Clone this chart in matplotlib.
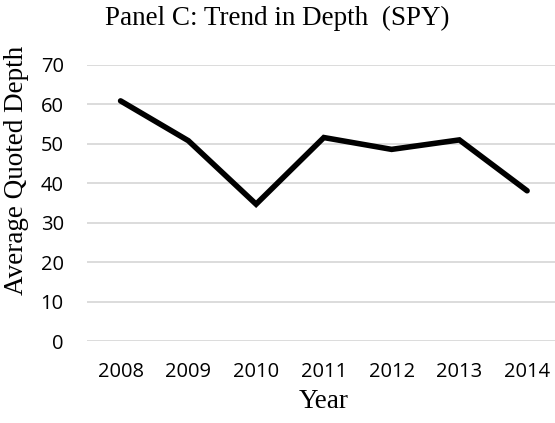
import matplotlib
matplotlib.use('Agg')
import matplotlib.pyplot as plt

# data
years = ['2008', '2009', '2010', '2011', '2012', '2013', '2014']
depth = [60.9, 50.8, 34.7, 51.6, 48.6, 51.0, 38.1]
yticks = [0, 10, 20, 30, 40, 50, 60, 70]

W, H = 555, 423
fig = plt.figure(figsize=(W / 100, H / 100), dpi=100)

# plot area (right edge runs past the picture, as in the reference)
left, right, top, bottom = 86.7, 561, 65, 341
ax = fig.add_axes([left / W, 1 - bottom / H, (right - left) / W, (bottom - top) / H])

x = list(range(len(years)))
ax.plot(x, depth, color='black', linewidth=4.0, solid_joinstyle='miter', solid_capstyle='round', zorder=3)

ax.set_xlim(-0.5, len(years) - 0.5)
ax.set_ylim(0, 70)
ax.set_yticks(yticks)
ax.set_xticks(x)
ax.set_xticklabels(years)
ax.grid(axis='y', color='#d9d9d9', linewidth=1.3)
ax.set_axisbelow(True)
for s in ax.spines.values():
    s.set_visible(False)
ax.tick_params(length=0, labelsize=14.5, labelcolor='black')
ax.tick_params(axis='y', pad=16.5)
ax.tick_params(axis='x', pad=15)
for lab in ax.get_xticklabels() + ax.get_yticklabels():
    lab.set_fontfamily('Open Sans')

serif = 'Liberation Serif'
fig.text(0.5, 1 - 18 / H, 'Panel C: Trend in Depth  (SPY)', ha='center', va='center',
         fontsize=19.5, family=serif)
fig.text(17 / W, 1 - 170 / H, 'Average Quoted Depth', ha='center', va='center',
         rotation=90, fontsize=19.5, family=serif)
fig.text(324 / W, 1 - 401 / H, 'Year', ha='center', va='center', fontsize=19.5, family=serif)

fig.savefig('out.png', dpi=100)
